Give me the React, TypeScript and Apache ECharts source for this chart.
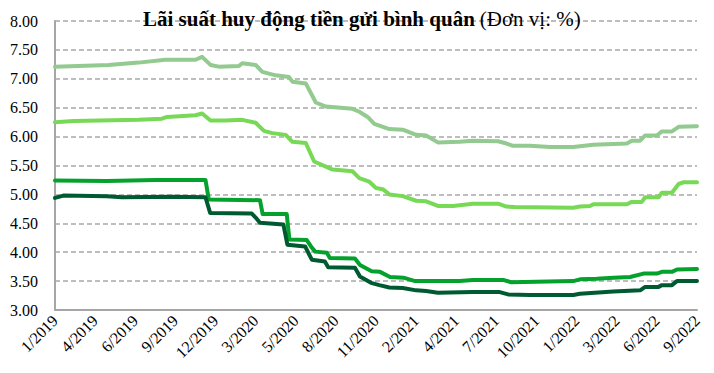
import React, { useEffect, useRef } from "react";
import * as echarts from "echarts";

// x positions are week indexes (one label every 12 weeks)
const xLabels = [
  "1/2019", "4/2019", "6/2019", "9/2019", "12/2019", "3/2020", "5/2020", "8/2020",
  "11/2020", "2/2021", "4/2021", "7/2021", "10/2021", "1/2022", "3/2022", "6/2022", "9/2022",
];
const weeksPerLabel = 12;

const yTicks = { min: 3, max: 8, step: 0.5 };

const seriesTop: [number, number][] = [
  [0, 7.21], [16, 7.24], [25, 7.28], [33, 7.33], [42, 7.33], [44, 7.38], [46.5, 7.24], [49, 7.21],
  [55, 7.22], [56, 7.27], [60, 7.24], [62, 7.12], [66, 7.06], [70, 7.03], [71, 6.95], [75, 6.92],
  [78, 6.59], [81, 6.52], [89, 6.48], [91, 6.43], [93.5, 6.34], [95.5, 6.22], [100, 6.13], [104, 6.12],
  [108, 6.03], [111, 6.02], [114.5, 5.9], [121, 5.91], [125, 5.93], [132.5, 5.92], [134.5, 5.89],
  [137, 5.84], [142, 5.84], [148, 5.82], [155, 5.82], [161, 5.86], [171, 5.88], [172.5, 5.93],
  [175, 5.93], [176.5, 6.02], [180, 6.02], [181.5, 6.09], [184.5, 6.09], [186.5, 6.17], [192, 6.18],
];

const seriesSecond: [number, number][] = [
  [0, 6.25], [5.5, 6.27], [25, 6.29], [32, 6.31], [33.5, 6.34], [42, 6.37], [44, 6.4], [46.5, 6.28],
  [51, 6.28], [56, 6.29], [60, 6.24], [62.5, 6.1], [65, 6.06], [69, 6.03], [71, 5.91], [75, 5.89],
  [77.5, 5.57], [81, 5.48], [83, 5.43], [89, 5.4], [91, 5.28], [94, 5.22], [96, 5.11], [98, 5.09],
  [100, 5.0], [104, 4.97], [108, 4.89], [111, 4.88], [114.5, 4.8], [119, 4.8], [125, 4.84],
  [132.5, 4.84], [135, 4.79], [137.5, 4.78], [155, 4.77], [157, 4.79], [160, 4.8], [161, 4.83],
  [171, 4.83], [172.5, 4.87], [175.5, 4.87], [176.5, 4.95], [180.5, 4.95], [181.5, 5.03],
  [184.5, 5.03], [186.5, 5.18], [188, 5.21], [192, 5.21],
];

const seriesThird: [number, number][] = [
  [0, 5.24], [15.5, 5.23], [30, 5.25], [45, 5.25], [46, 4.91], [61.3, 4.9], [62.1, 4.66], [69.3, 4.66],
  [70.1, 4.22], [75.3, 4.21], [76.8, 4.08], [77.8, 4.01], [81.3, 3.99], [82.2, 3.9], [89.7, 3.89],
  [91.2, 3.78], [94.7, 3.67], [97.2, 3.66], [100.2, 3.57], [104.2, 3.56], [107.7, 3.5], [121, 3.5],
  [125, 3.52], [134, 3.52], [136.5, 3.48], [155, 3.5], [157, 3.53], [162, 3.54], [167, 3.56],
  [172, 3.57], [176, 3.63], [180, 3.63], [181.5, 3.66], [184.5, 3.66], [186, 3.7], [192, 3.71],
];

const seriesBottom: [number, number][] = [
  [0, 4.94], [2.5, 4.98], [15.5, 4.97], [20, 4.95], [35, 4.96], [45, 4.95], [46.4, 4.68], [58.8, 4.67],
  [60.3, 4.58], [61.3, 4.51], [68.3, 4.48], [69.5, 4.13], [74.8, 4.1], [76.8, 3.87], [80.7, 3.84],
  [81.7, 3.74], [89.7, 3.73], [91.2, 3.58], [94.5, 3.47], [97, 3.43], [100, 3.39], [104, 3.38],
  [108, 3.34], [111, 3.33], [114.5, 3.3], [125, 3.31], [133, 3.31], [135.5, 3.27], [142, 3.26],
  [155, 3.26], [157, 3.28], [167, 3.32], [175, 3.34], [176.5, 3.4], [180.5, 3.4], [181.5, 3.43],
  [184.5, 3.43], [186, 3.5], [192, 3.5],
];

const seriesList = [
  { name: "Lãi suất 1", data: seriesTop, color: "#93ca90" },
  { name: "Lãi suất 2", data: seriesSecond, color: "#77d956" },
  { name: "Lãi suất 3", data: seriesThird, color: "#05a12d" },
  { name: "Lãi suất 4", data: seriesBottom, color: "#005a31" },
];

const serif = '"Liberation Serif", "Times New Roman", serif';

export default function App() {
  const ref = useRef<HTMLDivElement>(null);
  useEffect(() => {
    if (!ref.current) return;
    const chart = echarts.init(ref.current, null, { renderer: "svg" });
    chart.setOption({
      animation: false,
      backgroundColor: "#ffffff",
      title: {
        text: "{b|Lãi suất huy động tiền gửi bình quân} {n|(Đơn vị: %)}",
        left: 143,
        top: 8,
        padding: 0,
        textStyle: {
          rich: {
            b: { fontFamily: serif, fontWeight: "bold", fontSize: 21, color: "#000" },
            n: { fontFamily: serif, fontWeight: "normal", fontSize: 21, color: "#000" },
          },
        },
      },
      grid: { left: 55, right: 17, top: 21, bottom: 63, containLabel: false },
      xAxis: {
        type: "value",
        min: 0,
        max: (xLabels.length - 1) * weeksPerLabel,
        interval: weeksPerLabel,
        axisLine: { show: true, lineStyle: { color: "#a6a6a6", width: 2 } },
        axisTick: { show: false },
        splitLine: { show: false },
        axisLabel: {
          rotate: 45,
          margin: 8,
          fontFamily: serif,
          fontSize: 16,
          color: "#000",
          formatter: (v: number) => xLabels[Math.round(v / weeksPerLabel)] ?? "",
        },
      },
      yAxis: {
        type: "value",
        min: yTicks.min,
        max: yTicks.max,
        interval: yTicks.step,
        axisLine: { show: true, lineStyle: { color: "#a6a6a6", width: 2 } },
        axisTick: { show: false },
        splitLine: { show: true, lineStyle: { color: "#a8a8a8", width: 1.5, type: [5, 3] } },
        axisLabel: {
          margin: 17,
          fontFamily: serif,
          fontSize: 16,
          color: "#000",
          formatter: (v: number) => v.toFixed(2),
        },
      },
      series: seriesList.map((s) => ({
        type: "line",
        name: s.name,
        data: s.data,
        showSymbol: false,
        symbol: "none",
        lineStyle: { width: 4, color: s.color, cap: "round", join: "round" },
        itemStyle: { color: s.color },
      })),
    });
    return () => chart.dispose();
  }, []);
  return (
    <div
      ref={ref}
      style={{ position: "fixed", left: 0, top: 0, width: 714, height: 373, background: "#fff" }}
    />
  );
}
